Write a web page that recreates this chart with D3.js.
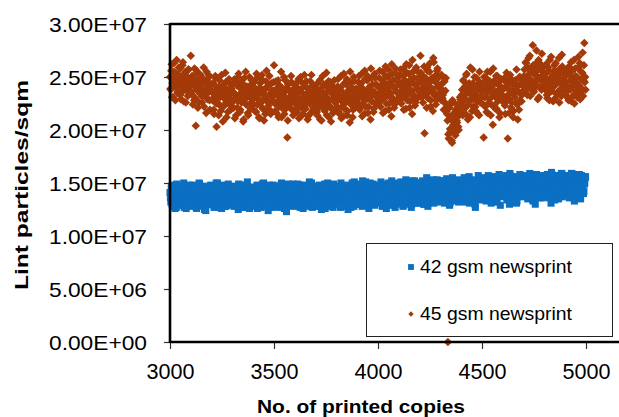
<!DOCTYPE html>
<html>
<head>
<meta charset="utf-8">
<script src="https://cdn.jsdelivr.net/npm/d3@7"></script>
<style>
  html, body { margin: 0; padding: 0; background: #fff; }
  svg { display: block; }
  text { font-family: Arial, "Liberation Sans", sans-serif; fill: #000; }
</style>
</head>
<body>
<svg id="chart" width="619" height="417"></svg>
<script>
// ---------- data (lint particles per sqm, in units of 1e5) ----------
const valueUnit = 1e5;
// even-numbered samples: copies 3000, 3004, ... ; odd samples: copies 3002, 3006, ...
const copiesA = d3.range(3000, 5000, 4);
const copiesB = d3.range(3002, 5000, 4);

const seriesNames = ["42 gsm newsprint", "45 gsm newsprint"];

const gsm42a = [
  141,132,147,128,138,144,126,135,149,131,139,143,129,136,146,133,140,127,145,137,130,142,134,148,138,
  135,144,129,140,147,133,138,126,143,131,150,136,128,141,134,146,132,139,124,145,137,130,143,135,148,
  139,131,146,127,137,143,133,150,129,140,135,145,126,138,132,147,136,128,142,134,149,130,141,137,144,
  133,142,128,146,136,131,144,125,139,148,134,130,143,137,127,145,132,140,151,129,138,135,146,131,141,
  140,129,145,134,138,126,147,132,143,136,130,149,135,141,128,144,133,139,124,146,137,131,142,134,148,
  136,144,130,147,133,139,127,142,135,150,129,138,145,132,140,123,146,134,137,143,128,141,136,149,131,
  139,132,146,128,141,135,148,130,137,143,126,145,133,140,131,147,136,129,142,134,150,127,138,144,135,
  134,143,129,147,136,131,140,125,145,138,132,149,135,128,142,137,146,130,139,133,148,127,141,136,144,
  141,130,146,135,139,127,148,133,143,137,129,145,136,140,125,147,134,142,131,150,138,128,144,135,139,
  137,145,131,148,136,141,128,144,134,139,151,130,143,137,126,146,135,140,132,149,138,129,145,136,142,
  140,131,147,135,143,128,149,137,133,145,126,141,138,150,132,144,136,129,147,139,134,142,130,146,137,
  136,146,132,149,139,128,144,137,151,133,141,130,147,138,143,127,145,135,140,152,134,142,131,148,139,
  143,134,150,137,145,130,148,139,135,152,128,144,140,147,133,146,138,131,149,142,136,153,132,144,141,
  140,148,134,151,143,131,146,138,153,136,144,129,149,141,135,147,139,152,133,145,137,150,132,143,146,
  145,136,152,139,147,133,150,141,137,154,131,146,142,149,135,148,140,127,151,144,138,155,134,145,143,
  142,151,136,154,145,133,149,140,156,138,147,131,152,143,137,150,141,155,135,148,139,153,129,146,149,
  147,138,154,141,150,135,152,143,130,157,140,148,144,155,136,151,142,133,153,146,139,156,137,149,145,
  144,153,138,156,147,135,151,142,158,140,149,134,154,145,130,152,143,157,137,150,141,155,136,148,153,
  149,140,156,143,152,137,154,145,131,158,142,150,146,157,138,153,144,135,155,148,141,159,139,151,147,
  145,154,139,157,148,136,152,143,159,141,150,133,155,146,138,153,144,158,137,151,142,156,140,149,155
];
const gsm42b = [
  136,145,130,142,148,133,139,127,144,135,131,147,138,129,143,134,150,132,140,126,146,137,141,128,144,
  142,133,148,130,139,145,127,136,143,132,149,138,129,144,135,141,125,147,133,139,130,146,136,142,131,
  134,146,129,141,136,150,132,139,127,144,137,131,148,135,142,128,145,133,140,130,147,136,143,129,138,
  140,130,147,134,143,128,138,149,132,136,145,127,141,133,148,137,130,144,135,139,126,146,134,142,137,
  133,142,136,128,148,131,140,145,134,127,143,138,150,130,137,146,129,141,135,148,132,139,127,144,136,
  143,131,139,146,128,144,135,133,148,130,141,137,126,147,134,142,131,149,136,129,145,138,133,140,146,
  131,144,137,149,133,140,127,146,135,138,130,148,141,132,145,128,139,151,134,143,130,147,136,141,128,
  141,130,145,133,148,128,139,143,131,147,136,126,144,134,150,132,138,145,129,142,137,149,131,140,146,
  135,147,132,143,129,150,137,141,134,146,128,144,139,131,148,136,142,127,145,133,140,151,135,143,130,
  143,134,149,130,145,138,152,132,141,136,147,129,144,140,133,150,137,146,131,142,148,135,139,145,132,
  136,147,133,151,139,130,145,142,128,148,137,144,131,149,140,135,152,133,143,138,127,146,141,134,150,
  145,133,151,138,147,129,143,140,153,135,146,132,149,137,144,130,152,139,134,148,142,136,150,131,145,
  138,149,135,152,141,130,146,143,155,137,148,133,151,139,145,132,153,140,136,150,143,134,147,138,152,
  147,136,152,140,149,133,145,154,138,143,150,131,148,141,155,136,144,151,139,146,134,153,142,137,149,
  140,151,137,155,144,132,149,146,139,156,135,150,143,153,138,147,130,152,145,141,157,136,148,142,151,
  150,139,155,143,152,136,147,157,141,149,134,154,145,138,156,143,151,132,148,146,158,140,153,137,147,
  142,154,139,157,146,134,151,149,159,137,153,145,140,156,144,150,131,155,147,141,158,138,152,143,154,
  151,140,157,145,153,137,149,159,142,155,146,133,156,148,143,158,139,152,147,136,157,144,150,141,155,
  143,155,140,158,148,136,153,145,160,139,151,147,134,157,144,152,138,156,149,142,159,137,154,146,151,
  152,141,157,146,155,138,150,159,143,148,136,156,145,153,140,158,147,151,135,157,144,154,142,150,156
];

const gsm45a = [
  250,238,262,244,231,255,247,240,266,235,252,243,258,229,248,261,237,245,253,226,249,241,257,234,247,
  270,245,233,251,228,241,204,256,237,247,226,243,252,232,239,248,222,246,235,255,229,242,250,219,238,
  236,228,244,215,233,249,203,238,225,241,231,218,252,234,222,240,229,245,212,236,226,248,230,219,239,
  243,227,235,211,246,230,221,250,233,217,239,226,244,208,236,229,255,224,238,214,241,231,220,247,232,
  229,245,218,236,253,224,233,212,240,227,248,221,235,209,238,230,256,219,242,226,234,215,244,228,237,
  261,225,238,216,233,247,222,229,241,212,235,226,250,219,231,238,193,243,227,236,221,245,230,214,239,
  232,219,244,226,237,211,229,250,223,235,215,241,228,220,246,231,213,238,225,233,252,218,236,227,242,
  226,239,214,233,221,247,229,209,236,224,243,218,231,254,222,237,212,228,245,220,234,216,240,227,231,
  235,222,248,217,231,240,211,236,226,253,220,233,243,214,229,238,207,245,224,232,219,250,228,237,223,
  238,225,251,219,234,244,213,239,229,256,222,236,247,216,231,241,210,249,227,235,220,253,232,243,226,
  241,228,256,222,238,247,216,243,232,260,225,239,250,219,235,245,213,253,230,240,224,258,236,248,229,
  244,231,257,225,240,251,219,246,235,262,228,242,253,221,238,248,215,255,233,243,226,259,239,249,232,
  245,270,233,252,226,241,197,248,237,259,230,244,255,222,239,249,218,264,235,246,228,256,241,251,234,
  242,228,251,233,219,246,237,224,215,0,192,221,198,210,188,226,203,213,195,217,207,222,200,214,229,
  225,238,214,246,230,221,252,235,210,241,227,259,233,218,244,229,250,222,237,216,243,231,255,226,239,
  231,244,193,238,222,249,235,216,241,229,255,224,237,205,246,232,220,251,236,227,243,212,239,248,230,
  238,226,249,215,240,232,192,245,229,252,221,237,244,218,234,247,225,241,210,236,250,228,243,233,246,
  244,257,236,263,249,241,268,253,232,259,246,280,238,255,262,243,251,229,266,248,257,240,272,252,245,
  250,238,262,233,247,256,228,243,269,237,252,241,261,230,246,255,235,249,226,258,244,271,239,253,242,
  246,233,257,241,228,252,238,264,231,249,243,225,258,237,250,234,269,242,229,255,239,273,247,282,250
];
const gsm45b = [
  239,256,231,249,263,242,228,253,245,236,259,248,233,251,240,264,227,246,255,238,250,232,257,244,241,
  236,251,224,243,258,230,247,238,221,253,241,234,249,226,244,259,232,238,216,247,235,252,228,243,237,
  229,244,219,236,251,225,240,231,214,247,234,222,239,208,243,230,254,226,237,217,245,233,223,241,228,
  236,221,248,230,214,242,227,253,233,219,245,228,238,210,249,231,224,241,216,235,250,225,239,229,244,
  224,240,232,217,249,229,236,211,244,226,252,220,238,231,215,246,227,241,223,251,233,218,237,228,245,
  233,218,246,226,239,212,242,228,255,221,236,230,215,247,224,240,209,244,231,225,251,219,235,228,243,
  225,241,217,234,248,222,238,213,245,229,219,252,232,224,240,210,236,228,246,216,233,242,221,237,230,
  232,217,244,225,236,210,239,228,251,220,234,226,242,214,230,246,223,238,208,241,229,219,247,226,235,
  227,241,216,238,229,251,222,235,213,244,231,226,248,218,236,230,255,224,240,212,233,246,221,239,228,
  230,245,221,240,233,253,225,238,215,248,234,229,251,222,239,232,258,227,243,217,236,249,224,242,231,
  233,249,227,242,236,255,230,245,218,251,238,232,257,225,243,235,262,229,247,221,240,253,228,246,234,
  235,252,229,244,238,258,232,247,220,254,240,234,261,227,245,237,266,231,249,223,242,256,230,248,236,
  237,254,231,246,240,260,234,249,221,256,242,236,263,228,247,239,268,233,251,224,244,258,231,250,238,
  239,252,230,245,236,226,249,218,209,196,224,201,212,190,228,205,216,198,219,209,224,203,216,231,222,
  233,220,247,228,241,215,253,236,224,244,212,238,230,257,222,242,234,218,249,227,240,214,245,231,236,
  237,224,250,231,243,217,255,238,226,246,214,240,232,258,223,244,236,220,251,229,242,216,247,233,239,
  232,247,223,241,254,228,239,216,249,235,226,243,212,246,231,238,257,224,242,219,250,234,227,245,237,
  251,240,264,246,233,258,249,270,239,255,244,261,236,252,247,275,242,257,231,263,250,238,259,245,254,
  239,253,245,230,259,241,266,236,250,247,227,256,242,263,234,251,245,268,238,254,232,260,243,249,237,
  244,236,253,230,260,239,247,227,256,242,266,234,251,245,231,259,240,263,236,248,254,232,261,245,238
];

const xTicks = [3000, 3500, 4000, 4500, 5000];
const yTicks = [0, 5e6, 1e7, 1.5e7, 2e7, 2.5e7, 3e7];
const yTickLabels = ["0.00E+00", "5.00E+06", "1.00E+07", "1.50E+07", "2.00E+07", "2.50E+07", "3.00E+07"];

// ---------- drawing ----------
const colors = ["#0b6fc2", "#a33a08"];
const svg = d3.select("#chart");

const x = d3.scaleLinear().domain([3000, 5200]).range([170, 627.6]);
const y = d3.scaleLinear().domain([0, 3e7]).range([342, 24]);

function merge(cA, vA, cB, vB) {
  const out = [];
  cA.forEach((c, i) => out.push({ c, v: vA[i] * valueUnit }));
  cB.forEach((c, i) => out.push({ c, v: vB[i] * valueUnit }));
  return out.sort((a, b) => a.c - b.c);
}
const d42 = merge(copiesA, gsm42a, copiesB, gsm42b);
const d45 = merge(copiesA, gsm45a, copiesB, gsm45b);

const sq = d3.symbol().type(d3.symbolSquare).size(50)();
const dm = d3.symbol().type(d3.symbolSquare).size(36)();

// series 1: squares
svg.append("g").selectAll("path").data(d42).join("path")
  .attr("d", sq)
  .attr("transform", d => `translate(${x(d.c)},${y(d.v)})`)
  .attr("fill", colors[0]);

// series 2: diamonds
svg.append("g").selectAll("path").data(d45).join("path")
  .attr("d", dm)
  .attr("transform", d => `translate(${x(d.c)},${y(d.v)}) rotate(45)`)
  .attr("fill", colors[1]);

// axes
const yAxis = d3.axisLeft(y).tickValues(yTicks).tickSize(6)
  .tickFormat((d, i) => yTickLabels[i]).tickPadding(17);
const gy = svg.append("g").attr("transform", "translate(170,0)").call(yAxis);
gy.select(".domain").remove();
gy.selectAll(".tick line").attr("stroke", "#333").attr("stroke-width", 1.2);
gy.selectAll(".tick text")
  .attr("font-size", 21).attr("font-family", "Arial, 'Liberation Sans', sans-serif")
  .attr("dy", "0.34em")
  .attr("textLength", 98).attr("lengthAdjust", "spacingAndGlyphs");

const xAxis = d3.axisBottom(x).tickValues(xTicks).tickSize(7)
  .tickFormat(d3.format("d")).tickPadding(14);
const gx = svg.append("g").attr("transform", "translate(0,342)").call(xAxis);
gx.select(".domain").remove();
gx.selectAll(".tick line").attr("stroke", "#333").attr("stroke-width", 1.2);
gx.selectAll(".tick text")
  .attr("font-size", 22).attr("font-family", "Arial, 'Liberation Sans', sans-serif")
  .attr("dy", "0.71em")
  .attr("textLength", 48).attr("lengthAdjust", "spacingAndGlyphs");

// plot frame lines (left, bottom, top)
svg.append("line").attr("x1", 170).attr("x2", 170).attr("y1", y(3e7) - 1).attr("y2", y(0) + 1)
  .attr("stroke", "#000").attr("stroke-width", 2.6);
svg.append("line").attr("x1", 170).attr("x2", 640).attr("y1", y(0)).attr("y2", y(0))
  .attr("stroke", "#000").attr("stroke-width", 2.6);
svg.append("line").attr("x1", 170).attr("x2", 640).attr("y1", y(3e7)).attr("y2", y(3e7))
  .attr("stroke", "#000").attr("stroke-width", 2.6);

// axis titles
svg.append("text")
  .attr("transform", "translate(28,185) rotate(-90)")
  .attr("text-anchor", "middle").attr("font-weight", "bold").attr("font-size", 19)
  .attr("textLength", 210).attr("lengthAdjust", "spacingAndGlyphs")
  .text("Lint particles/sqm");
svg.append("text")
  .attr("x", 361).attr("y", 413)
  .attr("text-anchor", "middle").attr("font-weight", "bold").attr("font-size", 18)
  .attr("textLength", 208).attr("lengthAdjust", "spacingAndGlyphs")
  .text("No. of printed copies");

// legend
const lg = svg.append("g");
lg.append("rect").attr("x", 366.5).attr("y", 243.5).attr("width", 246).attr("height", 93)
  .attr("fill", "#fff").attr("stroke", "#222").attr("stroke-width", 1);
const legendRows = [
  { name: seriesNames[0], color: colors[0], shape: "square", ty: 273 },
  { name: seriesNames[1], color: colors[1], shape: "diamond", ty: 320 }
];
legendRows.forEach(r => {
  lg.append("path")
    .attr("d", r.shape === "square" ? d3.symbol().type(d3.symbolSquare).size(34)() : d3.symbol().type(d3.symbolSquare).size(14)())
    .attr("transform", `translate(411,${r.ty - 6})` + (r.shape === "diamond" ? " rotate(45)" : ""))
    .attr("fill", r.color);
  lg.append("text").attr("x", 420).attr("y", r.ty)
    .attr("font-size", 19).attr("textLength", 152).attr("lengthAdjust", "spacingAndGlyphs")
    .text(r.name);
});
</script>
</body>
</html>
